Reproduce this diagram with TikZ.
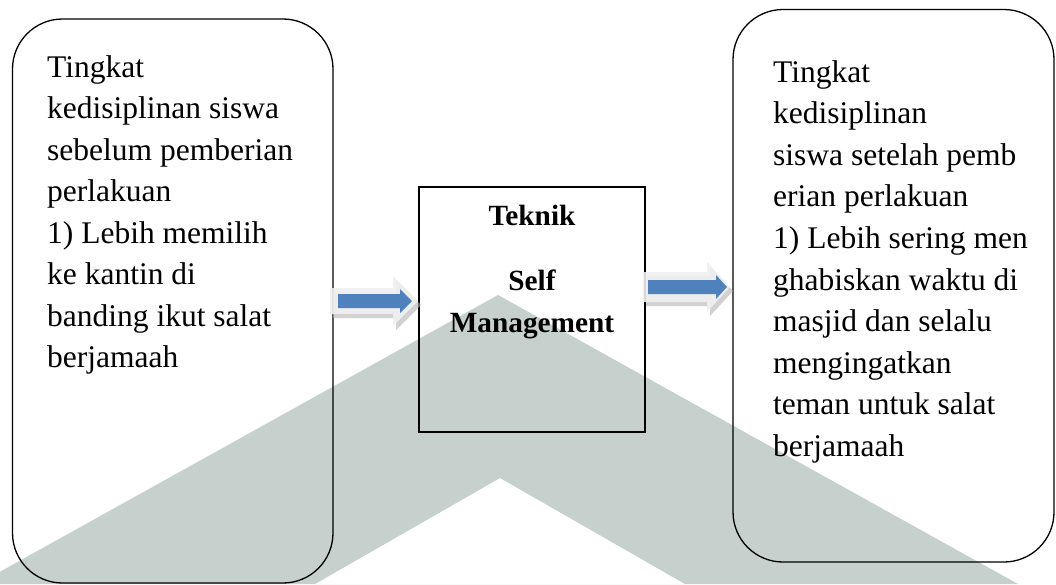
\documentclass[tikz,border=0pt]{standalone}
\usepackage{fontspec}
\setmainfont{Liberation Serif}
\definecolor{wmark}{RGB}{198,208,204}
\definecolor{arrblue}{RGB}{79,129,189}
\definecolor{arrlight}{RGB}{240,240,240}
\tikzset{
  txt/.style={anchor=base west, inner sep=0pt, font=\fontsize{31.5}{41.5}\selectfont},
  midtxt/.style={anchor=base, inner sep=0pt, font=\fontsize{29.3}{36}\selectfont\bfseries},
  roundbox/.style={draw=black, line width=1.3pt, rounded corners=50pt, inner sep=0pt},
  midbox/.style={draw=black, line width=1.3pt, inner sep=0pt},
  arrshadow/.style={fill=gray!60, fill opacity=0.6},
  arrouter/.style={fill=arrlight, fill opacity=0.9},
  arrinner/.style={fill=arrblue}
}
\begin{document}
\begin{tikzpicture}[x=1pt,y=-1pt]
\useasboundingbox (0,0) rectangle (1056,584);
% watermark
\fill[wmark, even odd rule] (498,295) -- (0,571.7) -- (0,584) -- (1018,584) -- cycle
  (500,478) -- (315,584) -- (685,584) -- cycle;
% boxes
\node[roundbox, minimum width=320.5pt, minimum height=564pt] (left) at (172.75,301) {};
\node[roundbox, minimum width=321pt, minimum height=552.5pt] (right) at (893.5,285.75) {};
\node[midbox, minimum width=226pt, minimum height=245pt] (mid) at (532,309.5) {};
% left arrow
\coordinate (la) at (330,301);
\fill[arrshadow] (333,292) -- (396,292) -- (396,280) -- (421,305) -- (396,330) -- (396,318) -- (333,318) -- cycle;
\fill[arrouter] (330,288) -- (393,288) -- (393,276) -- (418,301) -- (393,326) -- (393,314) -- (330,314) -- cycle;
\fill[arrinner] (338,294) -- (400,294) -- (400,289) -- (412,301) -- (400,313) -- (400,308) -- (338,308) -- cycle;
% right arrow
\coordinate (ra) at (643,287);
\fill[arrshadow] (646,276) -- (710,276) -- (710,266) -- (733,291) -- (710,316) -- (710,306) -- (646,306) -- cycle;
\fill[arrouter] (643,272) -- (707,272) -- (707,262) -- (730,287) -- (707,312) -- (707,302) -- (643,302) -- cycle;
\fill[arrinner] (648,280) -- (716,280) -- (716,275) -- (727,287) -- (716,299) -- (716,294) -- (648,294) -- cycle;
% left text
\foreach \t [count=\i] in {Tingkat,kedisiplinan siswa,sebelum pemberian,perlakuan,1) Lebih memilih,ke kantin di,banding ikut salat,berjamaah}
  \node[txt] (L\i) at (47,{77+41.5*(\i-1)}) {\t};
% right text
\foreach \t [count=\i] in {Tingkat,kedisiplinan,siswa setelah pemb,erian perlakuan,1) Lebih sering men,ghabiskan waktu di,masjid dan selalu,mengingatkan,teman untuk salat,berjamaah}
  \node[txt] (R\i) at (773,{82+41.6*(\i-1)}) {\t};
% middle text
\node[midtxt] (m1) at (532,225) {Teknik};
\node[midtxt] (m2) at (532,290) {Self};
\node[midtxt] (m3) at (532,332) {Management};
\end{tikzpicture}
\end{document}
